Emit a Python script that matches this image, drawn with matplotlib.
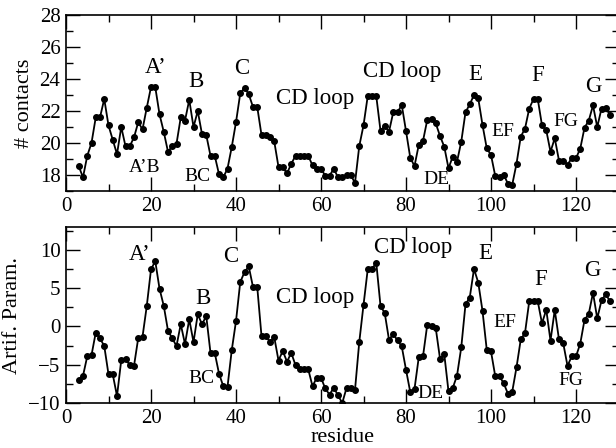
import matplotlib
matplotlib.use("Agg")
import matplotlib.pyplot as plt
from matplotlib.ticker import MultipleLocator

residue = list(range(3, 129))

contacts = [
    18.55, 17.85, 19.2, 20.0, 21.6, 21.6, 22.75, 21.1, 20.2, 19.3,      # 3-12
    21.0, 19.8, 19.8, 20.35, 21.3, 20.85, 22.2, 23.5, 23.5, 21.8,      # 13-22
    20.7, 19.45, 19.8, 19.95, 21.6, 21.4, 22.7, 21.0, 22.0, 20.55,     # 23-32
    20.5, 19.2, 19.2, 18.05, 17.85, 18.4, 19.75, 21.3, 23.1, 23.45,    # 33-42
    23.05, 22.25, 22.25, 20.5, 20.5, 20.4, 20.1, 18.5, 18.5, 18.1,     # 43-52
    18.7, 19.2, 19.2, 19.2, 19.2, 18.6, 18.4, 18.4, 17.95, 17.95,      # 53-62
    18.4, 17.85, 17.85, 18.0, 18.0, 17.5, 19.8, 21.1, 22.94, 22.94,    # 63-72
    22.94, 20.77, 21.08, 20.71, 21.92, 21.92, 22.38, 20.75, 19.08, 18.56,  # 73-82
    19.88, 20.13, 21.44, 21.48, 21.23, 20.44, 19.77, 18.42, 19.15, 18.83,  # 83-92
    20.08, 21.92, 22.42, 23.0, 22.79, 21.13, 19.67, 19.25, 17.94, 17.9,    # 93-102
    18.0, 17.45, 17.4, 18.7, 20.4, 20.9, 22.15, 22.75, 22.75, 21.1,    # 103-112
    20.8, 19.45, 20.3, 18.9, 18.9, 18.65, 19.05, 19.05, 19.65, 20.95,  # 113-122
    21.4, 22.35, 21.0, 22.15, 22.2, 21.75,                             # 123-128
]

artif = [
    -7.0, -6.45, -3.9, -3.75, -0.8, -1.55, -2.55, -6.25, -6.25, -9.1,  # 3-12
    -4.4, -4.2, -5.05, -5.15, -1.5, -1.35, 2.65, 7.45, 8.55, 4.95,     # 13-22
    2.7, -0.55, -1.55, -2.55, 0.3, -2.3, 0.95, -2.05, 1.6, 0.3,        # 23-32
    1.35, -3.45, -3.45, -6.15, -7.8, -7.9, -3.1, 0.7, 5.8, 7.1,        # 33-42
    7.85, 5.15, 5.15, -1.25, -1.25, -2.0, -1.4, -4.45, -3.2, -4.6,     # 43-52
    -3.45, -5.05, -5.6, -5.6, -5.6, -7.8, -6.7, -6.7, -8.1, -8.9,      # 53-62
    -8.0, -9.0, -10.0, -8.05, -8.05, -8.3, -2.05, 2.8, 7.48, 7.48,     # 63-72
    8.35, 2.7, 1.74, -1.74, -1.0, -1.83, -2.6, -5.65, -8.57, -8.17,    # 73-82
    -4.04, -3.9, 0.22, 0.0, -0.22, -4.2, -3.6, -8.48, -8.04, -6.43,    # 83-92
    -2.74, 2.9, 3.78, 7.52, 5.74, 2.04, -3.04, -3.26, -6.5, -6.5,      # 93-102
    -7.45, -8.8, -8.5, -5.35, -1.7, -0.85, 3.3, 3.3, 3.3, 0.4,         # 103-112
    2.2, -1.85, 2.15, -1.7, -2.2, -5.15, -3.9, -3.9, -2.25, 0.85,      # 113-122
    1.65, 4.4, 1.05, 3.4, 4.2, 3.3,                                    # 123-128
]

# (text, x, y, big)
top_labels = [
    ("A\u2019", 21.0, 24.7, True), ("B", 30.6, 23.83, True), ("C", 41.3, 24.67, True),
    ("CD loop", 58.6, 22.8, True), ("CD loop", 79.0, 24.45, True),
    ("E", 96.2, 24.25, True), ("F", 110.9, 24.2, True), ("G", 124.1, 23.55, True),
    ("A\u2019B", 18.6, 18.45, False), ("BC", 30.9, 17.9, False), ("DE", 87.1, 17.7, False),
    ("EF", 102.7, 20.75, False), ("FG", 117.6, 21.33, False),
]
bottom_labels = [
    ("A\u2019", 17.4, 9.44, True), ("B", 32.3, 3.7, True), ("C", 38.7, 9.1, True),
    ("CD loop", 58.6, 3.78, True), ("CD loop", 81.7, 10.35, True),
    ("E", 98.6, 9.57, True), ("F", 111.7, 6.18, True), ("G", 123.8, 7.26, True),
    ("BC", 31.9, -6.8, False), ("DE", 85.8, -8.77, False),
    ("EF", 103.3, 0.57, False), ("FG", 118.8, -7.1, False),
]

plt.rcParams["font.family"] = ["Liberation Serif", "DejaVu Serif"]

fig = plt.figure(figsize=(6.16, 4.48), dpi=100)
ax1 = fig.add_axes([66 / 616, 257 / 448, 552.5 / 616, 176 / 448])
ax2 = fig.add_axes([66 / 616, 45 / 448, 552.5 / 616, 176 / 448])


def style(ax, ymajor, yminor):
    ax.xaxis.set_major_locator(MultipleLocator(20))
    ax.xaxis.set_minor_locator(MultipleLocator(10))
    ax.yaxis.set_major_locator(MultipleLocator(ymajor))
    ax.yaxis.set_minor_locator(MultipleLocator(yminor))
    ax.tick_params(which="both", direction="in", top=True, right=True, labelsize=15, pad=4)
    ax.tick_params(which="major", length=10, width=1)
    ax.tick_params(which="minor", length=5, width=1)
    for sp in ax.spines.values():
        sp.set_linewidth(1.2)
    ax.set_xlim(0, 130)


ax1.plot(residue, contacts, color="black", lw=1.3, marker="o", ms=4)
style(ax1, 2, 1)
ax1.set_ylim(17, 28)
ax1.set_ylabel("# contacts", fontsize=16, labelpad=4)

ax2.plot(residue, artif, color="black", lw=1.3, marker="o", ms=4)
style(ax2, 5, 2.5)
ax2.set_ylim(-10, 13)
ax2.set_ylabel("Artif. Param.", fontsize=16, labelpad=4)
ax2.set_xlabel("residue", fontsize=16, labelpad=0)

for ax, labels in ((ax1, top_labels), (ax2, bottom_labels)):
    for txt, x, y, big in labels:
        ax.text(x, y, txt, fontsize=16.5 if big else 14, ha="center", va="center")

fig.savefig("out.png", dpi=100)
